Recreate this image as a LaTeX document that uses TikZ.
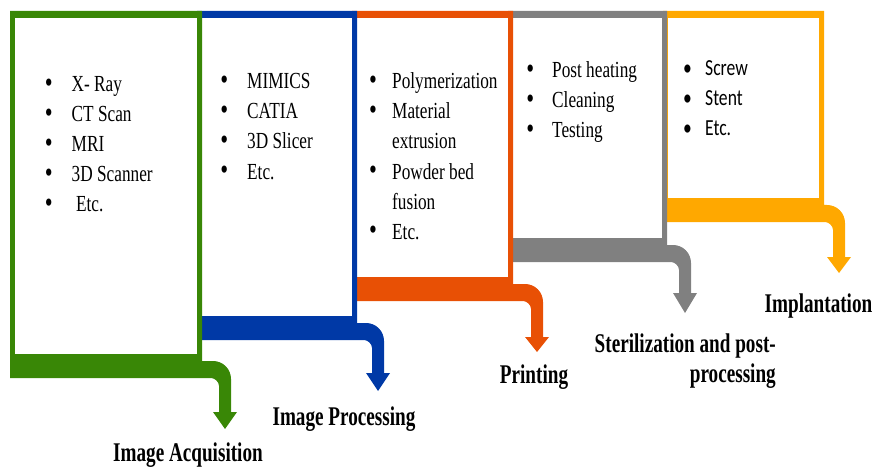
\documentclass[tikz,border=0pt]{standalone}
\usepackage{graphicx}
\usepackage{fontspec}
\setmainfont{Liberation Serif}
\newfontfamily\itemfam[FakeStretch=0.75]{Liberation Serif}
\newfontfamily\labfam[FakeStretch=0.71]{Liberation Serif}
\newfontfamily\calfam[FakeStretch=0.765]{Carlito}
\definecolor{cgreen}{RGB}{57,135,6}
\definecolor{cblue}{RGB}{0,57,166}
\definecolor{corange}{RGB}{232,80,5}
\definecolor{cgray}{RGB}{128,128,128}
\definecolor{cyellow}{RGB}{255,168,0}
% color, xl, xr, yb (inner bottom), xa (arrow axis), head top, tip
\newcommand\stagebox[7]{%
  \fill[#1] (#2,11) -- (#3,11) -- (#3,{#4+7}) -- ({#5-12},{#4+7})
    .. controls ({#5-2.06},{#4+7}) and ({#5+6},{#4+14.94}) .. ({#5+6},{#4+25})
    -- ({#5+6},#6) -- ({#5+12},#6) -- (#5,#7) -- ({#5-12},#6) -- ({#5-6},#6)
    -- ({#5-6},{#4+32}) .. controls ({#5-6},{#4+27.58}) and ({#5-10.42},{#4+24}) .. ({#5-14},{#4+24})
    -- (#2,{#4+24}) -- cycle;
  \fill[white] ({#2+5},18) rectangle ({#3-5},#4);
}
\newcommand\bul[1]{\makebox[#1][l]{\hspace{-0.8pt}\raisebox{-1pt}{\scalebox{1.3}{•}}}}
\newcommand\cbul[1]{\makebox[#1][l]{•}}
\tikzset{
  itemtxt/.style={anchor=base west, inner sep=0pt, font=\itemfam\fontsize{23}{27}\selectfont},
  caltxt/.style={anchor=base west, inner sep=0pt, font=\calfam\fontsize{23}{27}\selectfont},
  steplabel/.style={anchor=base, inner sep=0pt, font=\labfam\bfseries\fontsize{27}{31}\selectfont},
}
\begin{document}
\begin{tikzpicture}[x=1pt, y=-1pt]
\useasboundingbox (0,0) rectangle (876,468);
\stagebox{cyellow}{663}{824}{198}{839}{257}{273}
\stagebox{cgray}{508}{667}{238}{685}{293}{313}
\stagebox{corange}{352}{513}{277}{537}{337}{352}
\stagebox{cblue}{197}{357}{316}{378}{373}{391}
\stagebox{cgreen}{10}{202}{354}{225}{412}{429}

% Image acquisition
\node[itemtxt] (g1) at (45.5,91.5) {\bul{26pt}X- Ray};
\node[itemtxt] (g2) at (45.5,121.5) {\bul{26pt}CT Scan};
\node[itemtxt] (g3) at (45.5,151.5) {\bul{26pt}MRI};
\node[itemtxt] (g4) at (45.5,181.5) {\bul{26pt}3D Scanner};
\node[itemtxt] (g5) at (45.5,211.5) {\bul{26pt}\ Etc.};
% Image processing
\node[itemtxt] (b1) at (221,89) {\bul{26pt}MIMICS};
\node[itemtxt] (b2) at (221,119) {\bul{26pt}CATIA};
\node[itemtxt] (b3) at (221,149) {\bul{26pt}3D Slicer};
\node[itemtxt] (b4) at (221,179) {\bul{26pt}Etc.};
% Printing
\node[itemtxt] (o1) at (369.7,89) {\bul{22.3pt}Polymerization};
\node[itemtxt] (o2) at (369.7,119) {\bul{22.3pt}Material};
\node[itemtxt] (o3) at (392,149) {extrusion};
\node[itemtxt] (o4) at (369.7,179) {\bul{22.3pt}Powder bed};
\node[itemtxt] (o5) at (392,209) {fusion};
\node[itemtxt] (o6) at (369.7,239) {\bul{22.3pt}Etc.};
% Sterilization
\node[itemtxt] (s1) at (527,78) {\bul{25pt}Post heating};
\node[itemtxt] (s2) at (527,108) {\bul{25pt}Cleaning};
\node[itemtxt] (s3) at (527,138) {\bul{25pt}Testing};
% Implantation
\node[caltxt] (y1) at (683,76) {\cbul{22pt}Screw};
\node[caltxt] (y2) at (683,106) {\cbul{22pt}Stent};
\node[caltxt] (y3) at (683,136) {\cbul{22pt}Etc.};

% stage labels
\node[steplabel] (lA) at (188,461) {Image Acquisition};
\node[steplabel] (lB) at (344,425.5) {Image Processing};
\node[steplabel] (lC) at (534,383) {Printing};
\node[steplabel, anchor=base east] (lD1) at (776,352) {Sterilization and post-};
\node[steplabel, anchor=base east] (lD2) at (776,382) {processing};
\node[steplabel] (lE) at (818.5,312) {Implantation};
\end{tikzpicture}
\end{document}
